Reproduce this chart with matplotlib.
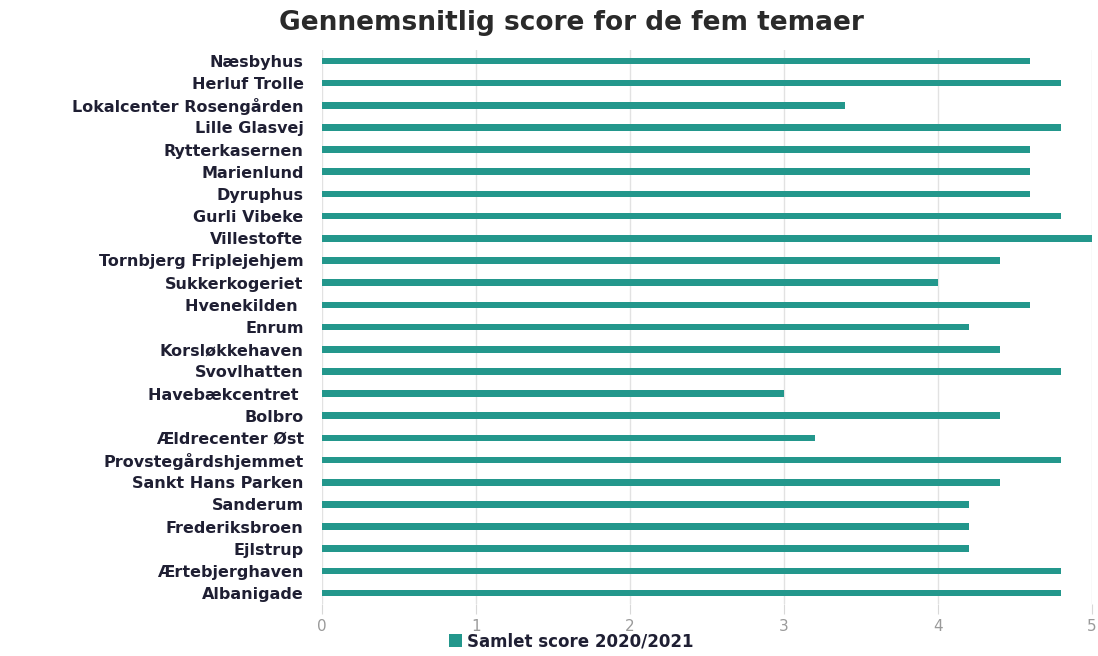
import matplotlib.pyplot as plt

categories = [
    "Næsbyhus", "Herluf Trolle", "Lokalcenter Rosengården", "Lille Glasvej",
    "Rytterkasernen", "Marienlund", "Dyruphus", "Gurli Vibeke", "Villestofte",
    "Tornbjerg Friplejehjem", "Sukkerkogeriet", "Hvenekilden ", "Enrum",
    "Korsløkkehaven", "Svovlhatten", "Havebækcentret ", "Bolbro",
    "Ældrecenter Øst", "Provstegårdshjemmet", "Sankt Hans Parken", "Sanderum",
    "Frederiksbroen", "Ejlstrup", "Ærtebjerghaven", "Albanigade",
]
scores = [4.6, 4.8, 3.4, 4.8, 4.6, 4.6, 4.6, 4.8, 5.0, 4.4, 4.0, 4.6, 4.2,
          4.4, 4.8, 3.0, 4.4, 3.2, 4.8, 4.4, 4.2, 4.2, 4.2, 4.8, 4.8]
series_name = "Samlet score 2020/2021"
xticks = [0, 1, 2, 3, 4, 5]

teal = "#23978c"

fig = plt.figure(figsize=(10.98, 6.56), dpi=100)
ax = fig.add_axes([0.293, 0.079, 0.7015, 0.845])

pos = list(range(len(categories)))
bars = ax.barh(pos, scores, height=0.3, color=teal, label=series_name, zorder=3)
ax.set_ylim(len(categories) - 0.5, -0.5)
ax.set_xlim(0, 5)

ax.set_yticks(pos)
ax.set_yticklabels(categories, fontsize=11.5, color="#1f1f33", fontweight="bold")
ax.tick_params(axis="y", length=0, pad=13)

ax.set_xticks(xticks)
ax.set_xticklabels([str(t) for t in xticks], fontsize=11, color="#9a9a9a")
ax.tick_params(axis="x", length=7, color="#d8d8d8", pad=4)

ax.grid(axis="x", color="#e2e2e2", linewidth=1, zorder=0)
for s in ax.spines.values():
    s.set_visible(False)

fig.text(0.52, 0.965, "Gennemsnitlig score for de fem temaer",
         ha="center", va="center", fontsize=19, fontweight="bold", color="#2a2a2a")

fig.legend(handles=[bars], loc="center", bbox_to_anchor=(0.52, 0.022),
           frameon=False, handlelength=0.8, handleheight=0.8,
           handletextpad=0.3, labelcolor="#1f1f33", borderpad=0.1,
           prop={"size": 12, "weight": "bold"})

fig.savefig("out.png", dpi=100)
